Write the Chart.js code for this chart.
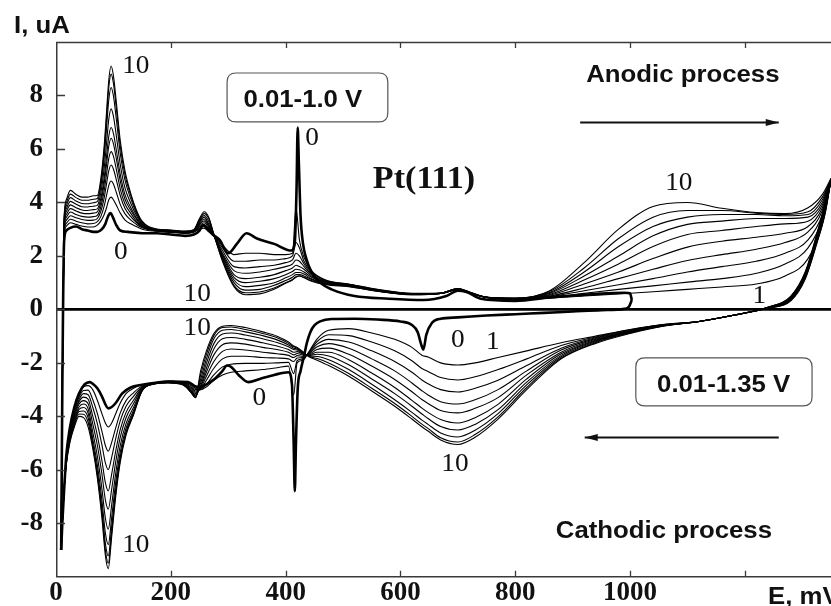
<!DOCTYPE html>
<html><head><meta charset="utf-8">
<script src="https://cdn.jsdelivr.net/npm/chart.js@4.4.1/dist/chart.umd.min.js"></script>
<style>html,body{margin:0;padding:0;background:#fff;}canvas{display:block;}</style>
</head><body>
<canvas id="c" width="831" height="606"></canvas>
<script>
// ---- axis ticks ----
const xTicks = [0, 200, 400, 600, 800, 1000, 1200];
const yTicks = [-8, -6, -4, -2, 0, 2, 4, 6, 8];

// ---- cycle 0 (0.01-1.0 V), anodic / cathodic ----
const EA0 = [9,11,14,18,25,35,45,55,65,72,80,86,91,95,99,105,112,125,150,175,200,225,240,250,256,262,273,285,300,315,332,350,380,410,416,419,421,423,426,430,436,445,460,480,520,580,640,680,700,715,740,800,860,920,960,990,1000,1003];
const IA0 = [-9.0,-3.0,2.5,2.95,3.05,3.1,3.0,2.95,2.9,2.9,3.0,3.2,3.5,3.6,3.45,3.15,2.95,2.9,2.85,2.85,2.8,2.75,2.8,2.95,3.15,3.05,2.8,2.6,2.1,2.45,2.85,2.65,2.45,2.2,2.5,4.5,6.8,5.5,3.5,2.5,1.9,1.4,1.0,0.75,0.5,0.4,0.35,0.5,0.7,0.65,0.4,0.32,0.45,0.55,0.6,0.62,0.6,0.35];
const EC0 = [1003,998,990,950,900,850,800,750,700,670,655,645,640,636,630,620,600,560,520,480,460,450,443,437,432,426,421,418,416,414,411,405,380,355,335,318,305,298,290,275,262,252,243,230,200,170,150,130,115,104,97,91,86,80,72,64,59,50,40,32,24,18,14,11,9];
const IC0 = [0.35,0.1,0.02,-0.03,-0.08,-0.13,-0.18,-0.23,-0.3,-0.35,-0.5,-0.95,-1.5,-1.3,-0.85,-0.58,-0.45,-0.38,-0.35,-0.36,-0.45,-0.6,-0.85,-1.25,-1.75,-2.3,-3.0,-5.0,-6.8,-5.0,-2.8,-2.35,-2.45,-2.6,-2.72,-2.45,-2.15,-2.1,-2.3,-2.62,-2.8,-2.9,-2.88,-2.72,-2.7,-2.75,-2.82,-2.92,-3.15,-3.5,-3.65,-3.7,-3.55,-3.25,-2.95,-2.78,-2.72,-2.8,-3.15,-3.65,-4.45,-5.45,-6.8,-8.0,-9.0];

// ---- cycles 1..10 (0.01-1.35 V): anodic potentials and currents ----
const EA = [9,11,14,18,25,35,45,55,65,72,78,84,88,92,96,100,105,112,120,130,140,150,175,200,225,240,250,258,266,275,290,310,330,355,380,400,412,418,424,432,445,470,510,560,620,670,700,720,750,800,860,920,980,1040,1100,1160,1220,1270,1310,1335,1350];
const ia1 = [-9,-3,2.68,3.11,3.24,3.18,3.12,3.08,3.08,3.15,3.3,3.55,3.8,4.1,4.2,4.1,3.9,3.6,3.35,3.2,3.1,3.0,2.92,2.88,2.84,2.89,3.0,3.04,2.9,2.75,2.4,2.05,2.1,2.1,2.05,2.05,2.1,3.8,2.6,1.95,1.45,1.1,0.95,0.75,0.6,0.6,0.74,0.62,0.45,0.38,0.42,0.5,0.58,0.66,0.75,0.84,0.95,1.25,1.9,3.2,4.85];
const ia2 = [-9,-3,2.76,3.22,3.37,3.3,3.24,3.2,3.21,3.28,3.47,3.87,4.26,4.64,4.8,4.69,4.38,3.92,3.58,3.35,3.18,3.05,2.93,2.89,2.85,2.9,3.04,3.11,2.95,2.75,2.3,1.8,1.8,1.85,1.85,1.9,2.0,2.5,2.3,1.8,1.4,1.08,0.94,0.74,0.59,0.6,0.74,0.62,0.45,0.38,0.45,0.6,0.75,0.88,1.02,1.15,1.35,1.7,2.3,3.4,4.85];
const ia3 = [-9,-3,2.84,3.33,3.5,3.43,3.36,3.33,3.34,3.4,3.66,4.18,4.69,5.19,5.4,5.25,4.85,4.25,3.78,3.48,3.25,3.08,2.94,2.9,2.86,2.91,3.09,3.17,3.0,2.75,2.2,1.6,1.55,1.6,1.65,1.75,1.85,2.1,2.0,1.7,1.35,1.06,0.93,0.73,0.58,0.6,0.75,0.62,0.45,0.39,0.48,0.7,0.92,1.15,1.4,1.6,1.8,2.1,2.6,3.55,4.85];
const ia4 = [-9,-3,2.92,3.44,3.64,3.55,3.48,3.45,3.47,3.52,3.83,4.45,5.05,5.65,5.9,5.73,5.25,4.5,3.95,3.6,3.3,3.1,2.95,2.91,2.87,2.92,3.13,3.24,3.05,2.75,2.1,1.45,1.35,1.4,1.5,1.6,1.7,1.85,1.8,1.6,1.3,1.04,0.92,0.72,0.58,0.6,0.75,0.63,0.45,0.39,0.5,0.8,1.15,1.5,1.83,2.05,2.25,2.5,2.9,3.7,4.85];
const ia5 = [-9,-3,3.0,3.55,3.77,3.68,3.6,3.58,3.6,3.65,3.99,4.72,5.41,6.11,6.4,6.2,5.65,4.8,4.13,3.72,3.38,3.13,2.96,2.92,2.88,2.93,3.18,3.31,3.1,2.75,2.05,1.3,1.15,1.2,1.3,1.45,1.55,1.65,1.6,1.5,1.25,1.02,0.91,0.71,0.57,0.6,0.76,0.63,0.45,0.4,0.53,0.95,1.4,1.9,2.33,2.55,2.7,2.85,3.1,3.8,4.85];
const ia6 = [-9,-3,3.08,3.66,3.91,3.8,3.72,3.7,3.73,3.76,4.14,4.94,5.71,6.48,6.8,6.58,5.97,5.04,4.3,3.82,3.43,3.15,2.97,2.93,2.89,2.94,3.22,3.38,3.15,2.75,2.0,1.2,1.0,1.05,1.15,1.3,1.42,1.5,1.48,1.4,1.2,1.0,0.9,0.7,0.57,0.6,0.76,0.63,0.45,0.4,0.56,1.1,1.7,2.35,2.8,2.95,3.1,3.2,3.3,3.9,4.85];
const ia7 = [-9,-3,3.16,3.77,4.04,3.93,3.84,3.83,3.86,3.89,4.35,5.3,6.2,7.12,7.5,7.23,6.51,5.41,4.55,3.98,3.52,3.18,2.98,2.94,2.9,2.95,3.27,3.45,3.2,2.8,1.95,1.1,0.85,0.9,1.0,1.18,1.3,1.38,1.38,1.32,1.15,0.98,0.89,0.69,0.56,0.6,0.77,0.64,0.45,0.41,0.6,1.25,2.0,2.75,3.18,3.3,3.4,3.4,3.45,4.0,4.85];
const ia8 = [-9,-3,3.24,3.88,4.18,4.05,3.96,3.95,3.99,4.03,4.57,5.69,6.77,7.85,8.3,7.99,7.13,5.83,4.85,4.15,3.6,3.22,2.99,2.95,2.91,2.96,3.31,3.51,3.3,2.8,1.9,1.0,0.72,0.75,0.9,1.08,1.2,1.3,1.3,1.25,1.12,0.96,0.87,0.69,0.56,0.6,0.77,0.64,0.45,0.41,0.63,1.4,2.35,3.1,3.45,3.55,3.55,3.5,3.55,4.1,4.85];
const ia9 = [-9,-3,3.32,3.99,4.31,4.18,4.08,4.08,4.12,4.15,4.73,5.96,7.13,8.31,8.8,8.46,7.53,6.1,5.05,4.28,3.66,3.26,3.0,2.96,2.92,2.97,3.36,3.58,3.4,2.8,1.85,0.9,0.62,0.65,0.8,1.0,1.12,1.22,1.25,1.2,1.08,0.94,0.86,0.68,0.55,0.6,0.78,0.65,0.45,0.42,0.67,1.55,2.65,3.45,3.7,3.7,3.6,3.55,3.65,4.2,4.85];
const ia10 = [-9,-3,3.4,4.1,4.45,4.3,4.2,4.2,4.25,4.26,4.87,6.14,7.37,8.59,9.1,8.74,7.77,6.3,5.2,4.35,3.72,3.3,3.01,2.97,2.93,2.98,3.4,3.65,3.45,2.8,1.8,0.85,0.55,0.58,0.75,0.98,1.1,1.2,1.25,1.18,1.05,0.92,0.85,0.68,0.55,0.6,0.78,0.65,0.45,0.42,0.7,1.75,3.0,3.85,4.0,3.78,3.62,3.58,3.8,4.3,4.9];

// ---- cycles 1..10: cathodic potentials and currents ----
const EC = [1350,1340,1325,1305,1280,1240,1180,1120,1060,1000,940,880,820,770,730,700,670,648,638,620,590,550,510,475,455,440,430,420,414,405,385,360,330,305,290,275,262,252,243,235,220,195,170,150,135,122,112,104,97,91,86,80,72,64,56,48,40,32,24,18,14,11,9];
const ic1 = [4.85,3.6,2.44,1.13,0.32,0.04,-0.22,-0.45,-0.56,-0.75,-1.0,-1.25,-1.55,-1.8,-2.0,-2.08,-2.0,-1.78,-1.72,-1.42,-1.12,-0.88,-0.72,-0.78,-1.1,-1.6,-1.9,-2.0,-3.2,-2.12,-2.18,-2.25,-2.3,-2.35,-2.45,-2.65,-2.9,-3.0,-2.95,-2.8,-2.72,-2.68,-2.75,-2.82,-2.95,-3.15,-3.5,-3.9,-4.25,-4.4,-4.25,-3.9,-3.4,-3.0,-2.85,-2.9,-3.2,-3.7,-4.5,-5.5,-6.8,-8.0,-9.0];
const ic2 = [4.85,3.64,2.48,1.16,0.34,0.05,-0.22,-0.45,-0.57,-0.76,-1.03,-1.35,-1.85,-2.25,-2.52,-2.64,-2.55,-2.32,-2.22,-1.92,-1.55,-1.22,-0.98,-0.95,-1.2,-1.62,-1.85,-1.92,-2.4,-1.98,-2.0,-2.02,-2.02,-2.05,-2.15,-2.45,-2.8,-3.0,-3.0,-2.85,-2.73,-2.69,-2.76,-2.86,-3.12,-3.41,-3.87,-4.43,-4.97,-5.3,-5.09,-4.56,-3.89,-3.37,-3.02,-3.03,-3.29,-3.78,-4.56,-5.53,-6.8,-8.0,-9.0];
const ic3 = [4.85,3.69,2.52,1.19,0.36,0.05,-0.22,-0.45,-0.57,-0.78,-1.06,-1.45,-2.1,-2.65,-2.95,-3.09,-3.0,-2.78,-2.65,-2.35,-1.95,-1.55,-1.22,-1.12,-1.3,-1.64,-1.8,-1.82,-1.95,-1.85,-1.82,-1.8,-1.75,-1.75,-1.85,-2.2,-2.65,-2.98,-3.05,-2.9,-2.74,-2.7,-2.76,-2.89,-3.25,-3.62,-4.16,-4.83,-5.53,-5.99,-5.74,-5.07,-4.27,-3.66,-3.19,-3.15,-3.38,-3.85,-4.61,-5.57,-6.8,-8.0,-9.0];
const ic4 = [4.85,3.73,2.56,1.22,0.38,0.06,-0.22,-0.45,-0.58,-0.8,-1.09,-1.52,-2.3,-3.0,-3.38,-3.54,-3.45,-3.2,-3.05,-2.75,-2.3,-1.85,-1.45,-1.28,-1.4,-1.66,-1.75,-1.73,-1.8,-1.72,-1.66,-1.6,-1.52,-1.48,-1.57,-1.95,-2.5,-2.95,-3.1,-2.95,-2.75,-2.7,-2.77,-2.92,-3.4,-3.85,-4.49,-5.3,-6.16,-6.79,-6.48,-5.66,-4.71,-3.99,-3.36,-3.28,-3.46,-3.93,-4.67,-5.6,-6.8,-8.0,-9.0];
const ic5 = [4.85,3.78,2.6,1.25,0.4,0.06,-0.22,-0.45,-0.59,-0.82,-1.12,-1.6,-2.45,-3.3,-3.7,-3.87,-3.78,-3.52,-3.38,-3.08,-2.62,-2.12,-1.68,-1.45,-1.5,-1.68,-1.7,-1.65,-1.7,-1.6,-1.5,-1.42,-1.3,-1.25,-1.32,-1.7,-2.35,-2.9,-3.15,-3.0,-2.76,-2.71,-2.77,-2.95,-3.53,-4.05,-4.78,-5.7,-6.72,-7.47,-7.12,-6.16,-5.08,-4.28,-3.53,-3.41,-3.55,-4.01,-4.72,-5.63,-6.8,-8.0,-9.0];
const ic6 = [4.85,3.82,2.64,1.28,0.42,0.07,-0.22,-0.45,-0.6,-0.83,-1.15,-1.66,-2.6,-3.55,-4.05,-4.25,-4.12,-3.85,-3.7,-3.4,-2.92,-2.38,-1.88,-1.6,-1.6,-1.7,-1.67,-1.58,-1.6,-1.5,-1.37,-1.25,-1.12,-1.05,-1.1,-1.48,-2.2,-2.85,-3.2,-3.05,-2.77,-2.72,-2.78,-2.99,-3.67,-4.27,-5.08,-6.13,-7.31,-8.22,-7.81,-6.71,-5.49,-4.58,-3.72,-3.54,-3.65,-4.09,-4.78,-5.67,-6.8,-8.0,-9.0];
const ic7 = [4.85,3.87,2.68,1.31,0.44,0.07,-0.22,-0.45,-0.6,-0.85,-1.18,-1.72,-2.72,-3.75,-4.3,-4.51,-4.38,-4.08,-3.92,-3.62,-3.15,-2.6,-2.07,-1.74,-1.68,-1.72,-1.64,-1.52,-1.5,-1.4,-1.24,-1.1,-0.96,-0.88,-0.92,-1.28,-2.02,-2.75,-3.25,-3.08,-2.78,-2.73,-2.78,-3.01,-3.78,-4.44,-5.33,-6.47,-7.78,-8.8,-8.36,-7.14,-5.81,-4.83,-3.89,-3.67,-3.74,-4.17,-4.84,-5.7,-6.8,-8.0,-9.0];
const ic8 = [4.85,3.91,2.72,1.34,0.46,0.08,-0.22,-0.45,-0.61,-0.87,-1.21,-1.77,-2.82,-3.9,-4.52,-4.77,-4.62,-4.3,-4.15,-3.85,-3.38,-2.8,-2.25,-1.88,-1.76,-1.74,-1.62,-1.48,-1.45,-1.33,-1.14,-0.98,-0.84,-0.75,-0.78,-1.1,-1.85,-2.62,-3.3,-3.1,-2.79,-2.73,-2.79,-3.03,-3.86,-4.56,-5.5,-6.72,-8.12,-9.22,-8.75,-7.45,-6.04,-5.0,-4.06,-3.8,-3.82,-4.25,-4.89,-5.73,-6.8,-8.0,-9.0];
const ic9 = [4.85,3.96,2.76,1.37,0.48,0.08,-0.22,-0.45,-0.61,-0.88,-1.24,-1.82,-2.92,-4.02,-4.68,-4.96,-4.8,-4.45,-4.3,-4.0,-3.52,-2.95,-2.4,-2.0,-1.84,-1.75,-1.6,-1.45,-1.4,-1.27,-1.06,-0.9,-0.75,-0.66,-0.68,-0.98,-1.68,-2.45,-3.3,-3.1,-2.8,-2.74,-2.79,-3.04,-3.91,-4.64,-5.61,-6.88,-8.33,-9.49,-9.0,-7.64,-6.18,-5.11,-4.23,-3.92,-3.91,-4.32,-4.95,-5.77,-6.8,-8.0,-9.0];
const ic10 = [4.9,4.0,2.8,1.4,0.5,0.08,-0.22,-0.45,-0.62,-0.9,-1.27,-1.85,-3.0,-4.1,-4.78,-5.05,-4.88,-4.55,-4.4,-4.1,-3.62,-3.05,-2.5,-2.1,-1.9,-1.76,-1.58,-1.42,-1.37,-1.22,-1.0,-0.84,-0.68,-0.6,-0.63,-0.9,-1.55,-2.3,-3.25,-3.05,-2.82,-2.75,-2.8,-3.05,-3.95,-4.7,-5.7,-7.0,-8.5,-9.7,-9.2,-7.8,-6.3,-5.2,-4.4,-4.05,-4.0,-4.4,-5.0,-5.8,-6.8,-8.0,-9.0];

// ---- text annotations (positions in data units: E mV, I uA) ----
const cycleLabels = [
  ['10', 139, 9.14], ['0', 113, 2.22], ['0', 446, 6.45], ['10', 1085, 4.8],
  ['1', 1225, 0.54], ['10', 246, 0.65], ['10', 246, -0.65], ['0', 354, -3.27],
  ['0', 700, -1.1], ['1', 761, -1.18], ['10', 695, -5.74], ['10', 139, -8.77]
];

const anodicSets = [ia1, ia2, ia3, ia4, ia5, ia6, ia7, ia8, ia9, ia10];
const cathodicSets = [ic1, ic2, ic3, ic4, ic5, ic6, ic7, ic8, ic9, ic10];

function pts(E, I) { return E.map((e, i) => ({ x: e, y: I[i] })); }
function lineDs(label, data, w) {
  return { label, data, borderColor: '#000', borderWidth: w, pointRadius: 0,
    fill: false, cubicInterpolationMode: 'monotone' };
}
const datasets = [];
anodicSets.forEach((a, k) => {
  datasets.push(lineDs('Cycle ' + (k + 1) + ' anodic', pts(EA, a), 1.1));
  datasets.push(lineDs('Cycle ' + (k + 1) + ' cathodic', pts(EC, cathodicSets[k]), 1.1));
});
datasets.push(lineDs('Cycle 0 anodic', pts(EA0, IA0), 2.6));
datasets.push(lineDs('Cycle 0 cathodic', pts(EC0, IC0), 2.6));

const SANS = "'Liberation Sans', Arial, sans-serif";
const SERIF = "'Liberation Serif', 'Times New Roman', serif";

function stretchText(ctx, txt, x, y, font, sx, align) {
  ctx.save();
  ctx.font = font;
  ctx.textAlign = align || 'center';
  ctx.textBaseline = 'alphabetic';
  ctx.translate(x, y);
  ctx.scale(sx, 1);
  ctx.fillText(txt, 0, 0);
  ctx.restore();
}
function roundRect(ctx, x0, y0, x1, y1, r) {
  ctx.beginPath();
  ctx.moveTo(x0 + r, y0); ctx.lineTo(x1 - r, y0); ctx.quadraticCurveTo(x1, y0, x1, y0 + r);
  ctx.lineTo(x1, y1 - r); ctx.quadraticCurveTo(x1, y1, x1 - r, y1);
  ctx.lineTo(x0 + r, y1); ctx.quadraticCurveTo(x0, y1, x0, y1 - r);
  ctx.lineTo(x0, y0 + r); ctx.quadraticCurveTo(x0, y0, x0 + r, y0);
  ctx.closePath(); ctx.stroke();
}
function arrow(ctx, xa, xb, y) {
  ctx.beginPath(); ctx.moveTo(xa, y); ctx.lineTo(xb, y); ctx.stroke();
  const d = xb > xa ? -1 : 1;
  ctx.beginPath(); ctx.moveTo(xb, y); ctx.lineTo(xb + d * 13, y - 3.5); ctx.lineTo(xb + d * 13, y + 3.5); ctx.closePath(); ctx.fill();
}

const decor = {
  id: 'decor',
  beforeDatasetsDraw(chart) {
    const { ctx, chartArea: a, scales: { y } } = chart;
    ctx.save();
    ctx.strokeStyle = '#000'; ctx.lineWidth = 2.6;
    const y0 = y.getPixelForValue(0);
    ctx.beginPath(); ctx.moveTo(a.left, y0); ctx.lineTo(a.right, y0); ctx.stroke();
    ctx.restore();
  },
  afterDraw(chart) {
    const { ctx, chartArea: a, scales: { x, y } } = chart;
    ctx.save();
    // frame (left, top, bottom)
    ctx.strokeStyle = '#3a3a3a'; ctx.lineWidth = 1.5;
    ctx.beginPath();
    ctx.moveTo(a.right, a.top + 0.5); ctx.lineTo(a.left + 0.75, a.top + 0.5);
    ctx.lineTo(a.left + 0.75, a.bottom); ctx.lineTo(a.right, a.bottom);
    ctx.stroke();
    // inner tick marks
    ctx.lineWidth = 1.3;
    ctx.beginPath();
    xTicks.forEach(v => { if (v === 0) return; const px = Math.round(x.getPixelForValue(v)) + 0.5;
      ctx.moveTo(px, a.bottom); ctx.lineTo(px, a.bottom - 6);
      ctx.moveTo(px, a.top); ctx.lineTo(px, a.top + 6); });
    yTicks.forEach(v => { const py = Math.round(y.getPixelForValue(v)) + 0.5;
      ctx.moveTo(a.left, py); ctx.lineTo(a.left + 9, py); });
    ctx.stroke();

    ctx.fillStyle = '#111'; ctx.strokeStyle = '#111';
    // axis titles
    stretchText(ctx, 'I, uA', 14, 33, 'bold 23px ' + SANS, 1.12, 'left');
    stretchText(ctx, 'E, mV', 768, 604, 'bold 23px ' + SANS, 1.12, 'left');
    // boxes
    ctx.strokeStyle = '#555'; ctx.lineWidth = 1.2;
    roundRect(ctx, x.getPixelForValue(298), y.getPixelForValue(8.84), x.getPixelForValue(578), y.getPixelForValue(7.01), 9);
    roundRect(ctx, x.getPixelForValue(1010), y.getPixelForValue(-1.81), x.getPixelForValue(1317), y.getPixelForValue(-3.61), 9);
    const bf = 'bold 23px ' + SANS;
    stretchText(ctx, '0.01-1.0 V', x.getPixelForValue(430), y.getPixelForValue(7.57), bf, 1.12);
    stretchText(ctx, '0.01-1.35 V', x.getPixelForValue(1163), y.getPixelForValue(-3.1), bf, 1.12);
    stretchText(ctx, 'Anodic process', x.getPixelForValue(1092), y.getPixelForValue(8.5), bf, 1.12);
    stretchText(ctx, 'Cathodic process', x.getPixelForValue(1059), y.getPixelForValue(-8.54), bf, 1.12);
    stretchText(ctx, 'Pt(111)', x.getPixelForValue(641), y.getPixelForValue(4.54), 'bold 31px ' + SERIF, 1.1);
    // arrows
    ctx.strokeStyle = '#111'; ctx.fillStyle = '#111'; ctx.lineWidth = 2;
    arrow(ctx, x.getPixelForValue(913), x.getPixelForValue(1259), Math.round(y.getPixelForValue(7.01)) + 0.5);
    arrow(ctx, x.getPixelForValue(1259), x.getPixelForValue(921), Math.round(y.getPixelForValue(-4.77)) + 0.5);
    // cycle number labels
    cycleLabels.forEach(([t, e, i]) => {
      stretchText(ctx, t, x.getPixelForValue(e), y.getPixelForValue(i) + 8.5, '26px ' + SERIF, 1.05);
    });
    ctx.restore();
  }
};

new Chart(document.getElementById('c'), {
  type: 'line',
  data: { datasets },
  options: {
    responsive: false, animation: false, events: [],
    layout: { padding: { top: 42, left: 0, right: 0, bottom: 0 } },
    plugins: { legend: { display: false }, tooltip: { enabled: false } },
    scales: {
      x: {
        type: 'linear', min: 0, max: 1350,
        afterBuildTicks: s => { s.ticks = xTicks.map(v => ({ value: v })); },
        afterFit: s => { s.height = 29; },
        grid: { display: false, drawTicks: false }, border: { display: false },
        ticks: { padding: 0, maxRotation: 0, autoSkip: false, color: '#111',
          font: { family: SERIF, weight: 'bold', size: 27 },
          callback: v => (v === 1200 ? '' : String(v)) }
      },
      y: {
        type: 'linear', min: -10, max: 10,
        afterBuildTicks: s => { s.ticks = yTicks.map(v => ({ value: v })); },
        afterFit: s => { s.width = 56; },
        grid: { display: false, drawTicks: false }, border: { display: false },
        ticks: { padding: 13, autoSkip: false, color: '#111',
          font: { family: SERIF, weight: 'bold', size: 27 },
          callback: v => String(v) }
      }
    }
  },
  plugins: [decor]
});
</script>
</body></html>
